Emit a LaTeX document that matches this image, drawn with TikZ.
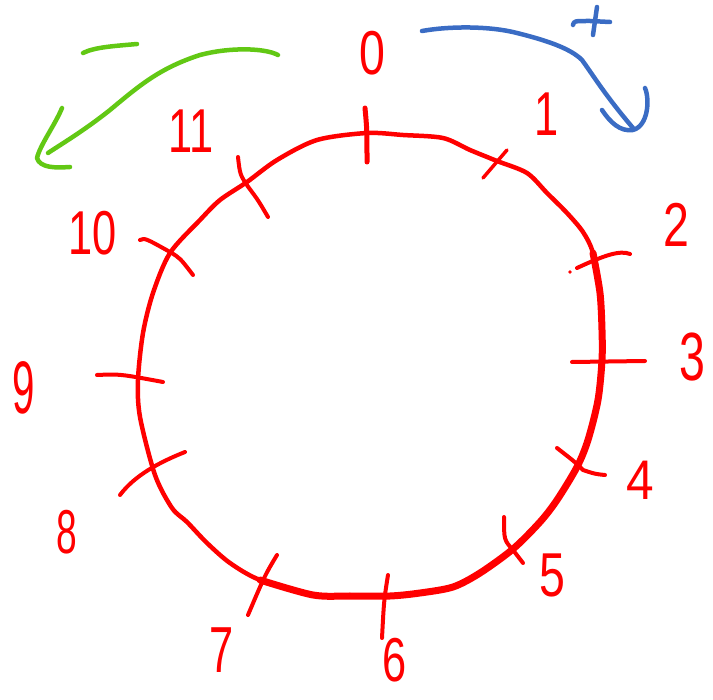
\documentclass[tikz,border=0pt]{standalone}
\usepackage{fontspec}
\setmainfont{Liberation Sans}
\definecolor{hred}{RGB}{255,0,0}
\definecolor{hblue}{RGB}{58,108,196}
\definecolor{hgreen}{RGB}{98,200,20}
\begin{document}
\begin{tikzpicture}[x=1pt,y=-1pt,line cap=round,line join=round,
  ring/.style={draw=hred,line width=4.5pt},
  ringthick/.style={draw=hred,line width=7pt},
  tick/.style={draw=hred,line width=4pt},
  bluepen/.style={draw=hblue,line width=4.5pt},
  greenpen/.style={draw=hgreen,line width=4.5pt},
  lab/.style={text=hred,inner sep=0pt,font=\fontsize{62}{62}\selectfont}]
\useasboundingbox (0,0) rectangle (713,700);
% ring
\draw[ring] plot[smooth cycle,tension=0.5] coordinates {
(367,133) (403,135) (443,138) (470,150) (497,161) (527,173) (547,193) (567,213)
(583,232) (593,253) (600,293) (602,330) (602,360) (598,400) (588,440) (577,467)
(557,500) (540,522) (513,549) (480,573) (453,587) (420,593) (390,596) (350,596)
(313,595) (260,580) (230,563) (207,543) (187,522) (172,508) (155,475) (140,417)
(138,380) (143,333) (153,293) (170,253) (200,220) (220,200) (247,182) (277,160)
(317,140)};
\draw[ringthick] plot[smooth,tension=0.5] coordinates {
(593,253) (600,293) (602,330) (602,360) (598,400) (588,440) (577,467)
(557,500) (540,522) (513,549) (480,573) (453,587) (420,593) (390,596) (350,596)
(313,595) (260,580)};
% ticks
\draw[tick,line width=5pt] (365,108) .. controls (367,130) .. (367,162);
\draw[tick,line width=3.5pt] (507,150) -- (483,178);
\draw[tick] (577,268) .. controls (605,255) and (620,250) .. (630,254);
\fill[hred] (570,272) circle (1.8);
\draw[tick] (572,362) -- (645,361);
\draw[tick] (557,448) .. controls (575,462) .. (583,470) .. controls (595,474) .. (605,475);
\draw[tick] (504,517) .. controls (504,540) .. (513,550) -- (523,563);
\draw[tick] (388,575) .. controls (384,600) .. (382,638);
\draw[tick] (277,555) .. controls (265,575) .. (248,615);
\draw[tick] (185,452) .. controls (160,462) and (135,475) .. (120,495);
\draw[tick] (97,375) .. controls (120,374) .. (163,382);
\draw[tick] (140,240) .. controls (145,238) .. (170,252) .. controls (180,258) .. (193,275);
\draw[tick] (238,157) .. controls (240,175) .. (249,188) .. controls (258,200) .. (268,217);
% labels
\node[lab] (n0) at (372,53) {\scalebox{0.75}[1]{0}};
\node[lab] (n1) at (547,114) {\scalebox{0.7}[1]{1}};
\node[lab] (n2) at (676,225) {\scalebox{0.75}[1]{2}};
\node[lab] (n3) at (692,357) {\scalebox{0.75}[1.1]{3}};
\node[lab] (n4) at (640,480) {\scalebox{0.8}[0.9]{4}};
\node[lab] (n5) at (552,575) {\scalebox{0.75}[1]{5}};
\node[lab] (n6) at (395,660) {\scalebox{0.7}[1]{6}};
\node[lab] (n7) at (222,650) {\scalebox{0.7}[1.05]{7}};
\node[lab] (n8) at (67,532) {\scalebox{0.6}[1]{8}};
\node[lab] (n9) at (24,388) {\scalebox{0.65}[1.2]{9}};
\node[lab] (n10) at (93,233) {\scalebox{0.7}[1]{10}};
\node[lab] (n11) at (191,131) {\scalebox{0.7}[1]{11}};
% blue arrow (+)
\draw[bluepen] (422,31) .. controls (450,26) and (490,26) .. (517,33)
  .. controls (545,40) and (570,48) .. (582,60)
  .. controls (595,78) and (605,95) .. (633,128);
\draw[bluepen] (602,110) .. controls (610,122) and (620,132) .. (633,130)
  .. controls (648,126) and (650,100) .. (645,88);
\draw[bluepen] (573,25) .. controls (574,21) .. (590,21) -- (610,22);
\draw[bluepen] (597,7) -- (593,35);
% green arrow (-)
\draw[greenpen] (278,55) .. controls (265,48) and (230,47) .. (200,55)
  .. controls (160,68) and (140,85) .. (110,110)
  .. controls (85,130) and (60,145) .. (48,153);
\draw[greenpen] (62,108) .. controls (55,125) and (40,145) .. (37,158)
  .. controls (40,168) and (55,168) .. (70,167);
\draw[greenpen] (83,53) .. controls (95,47) and (115,46) .. (137,44);
\end{tikzpicture}
\end{document}
